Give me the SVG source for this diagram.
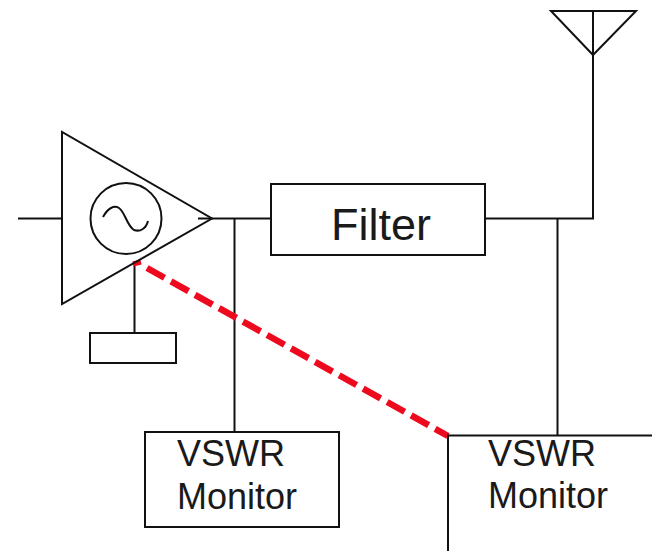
<svg xmlns="http://www.w3.org/2000/svg" width="652" height="551" viewBox="0 0 652 551">
<style>
.l{fill:none;stroke:#111;stroke-width:2}
.t{font-family:"Liberation Sans",Arial,sans-serif;fill:#1a1a1a;text-anchor:middle}
.m{font-size:36px}
.f{font-size:45px}
</style>
<rect width="652" height="551" fill="#fff"/>
<g id="connectors">
<path class="l" d="M18 218.500H62M198 218.500H271M485 218.500H593V12M234.500 218.500V432M557.500 218.500V436M134.500 265V333"/>
<path d="M133 264L141 262" fill="none" stroke="#ee0a1e" stroke-width="5"/>
<path d="M147 268L448 436" fill="none" stroke="#ee0a1e" stroke-width="6.500" stroke-dasharray="20 7.500"/>
</g>
<g id="amplifier">
<path class="l" d="M62 132V304L212 218.500Z"/>
<circle class="l" cx="126" cy="218.500" r="35.500"/>
<path class="l" d="M103 217C108 208 114 205 119 208C125 212 127 226 134 230C140 232 146 229 148 221"/>
</g>
<g id="bias-box"><rect class="l" x="90" y="333" width="86" height="30"/></g>
<g id="filter">
<rect class="l" x="271" y="184" width="214" height="71"/>
<text class="t f" x="381" y="240">Filter</text>
</g>
<g id="antenna"><path class="l" d="M551 11H636L593 55Z"/></g>
<g id="monitor-1">
<rect class="l" x="145" y="432" width="194" height="95"/>
<text class="t m" x="231" y="466">VSWR</text>
<text class="t m" x="237" y="509">Monitor</text>
</g>
<g id="monitor-2">
<path class="l" d="M652 435.500H448V551"/>
<text class="t m" x="542" y="466">VSWR</text>
<text class="t m" x="548" y="508">Monitor</text>
</g>
</svg>
